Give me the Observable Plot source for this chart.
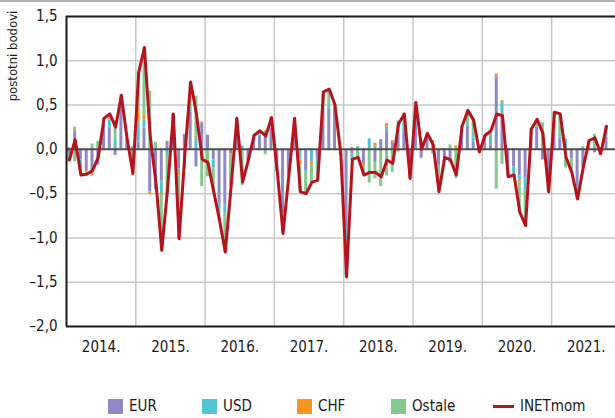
<!DOCTYPE html>
<html>
<head>
<meta charset="utf-8">
<script src="https://cdn.jsdelivr.net/npm/d3@7"></script>
<script src="https://cdn.jsdelivr.net/npm/@observablehq/plot@0.6"></script>
<style>
html, body { margin: 0; padding: 0; background: #fff; overflow: hidden; }
body { width: 615px; height: 418px; position: relative; font-family: "DejaVu Sans Condensed", "DejaVu Sans", sans-serif; font-stretch: condensed; color: #1a1a1a; }
#topline { position: absolute; left: 0; top: 0; width: 615px; height: 2px; background: #b3b3b3; }
#chart { position: absolute; left: 0; top: 0; }
#chart svg text { font-stretch: condensed; }
#ytitle { position: absolute; left: 12px; top: 56px; transform: translate(-50%, -50%) rotate(-90deg); font-size: 13px; white-space: nowrap; }
#legend { position: absolute; top: 398px; left: 0; width: 615px; height: 16px; }
.item { position: absolute; top: 0; display: flex; align-items: center; height: 16px; font-size: 15px; white-space: nowrap; }
.sw { width: 15px; height: 15px; margin-right: 6px; }
.ln { width: 21px; height: 3px; margin-right: 6px; }
</style>
</head>
<body>
<div id="chart"></div>
<div id="topline"></div>
<div id="ytitle">postotni bodovi</div>
<div id="legend"></div>
<script>
// ---- data (monthly, January 2014 – October 2021) ----
const startYear = 2014;
const yearLabels = ["2014.", "2015.", "2016.", "2017.", "2018.", "2019.", "2020.", "2021."];
const seriesNames = ["EUR", "USD", "CHF", "Ostale"];
const seriesColors = ["#8f89c6", "#52c4d1", "#f7941d", "#83c98f"];
const lineName = "INETmom";
const lineColor = "#b5141c";
const yTicks = [-2, -1.5, -1, -0.5, 0, 0.5, 1, 1.5];

const INETmom = [
  -0.12, 0.11, -0.29, -0.28, -0.24, -0.09, 0.35, 0.40, 0.25, 0.61, 0.12, -0.27,
  0.87, 1.15, 0.15, -0.38, -1.14, -0.45, 0.40, -1.01, -0.05, 0.76, 0.40, -0.11,
  -0.15, -0.48, -0.80, -1.16, -0.42, 0.35, -0.37, -0.12, 0.16, 0.21, 0.15, 0.36,
  -0.25, -0.95, -0.30, 0.35, -0.48, -0.50, -0.37, -0.35, 0.65, 0.68, 0.50, -0.05,
  -1.44, -0.11, -0.09, -0.29, -0.26, -0.26, -0.31, -0.12, -0.16, 0.29, 0.40, -0.33,
  0.53, 0.00, 0.18, 0.05, -0.48, -0.09, -0.12, -0.29, 0.26, 0.44, 0.33, -0.03,
  0.16, 0.21, 0.40, 0.38, -0.31, -0.29, -0.71, -0.86, 0.23, 0.34, 0.18, -0.48,
  0.42, 0.40, -0.09, -0.26, -0.56, -0.20, 0.10, 0.13, -0.05, 0.26
];
const EUR = [
  -0.06, 0.20, -0.12, -0.24, -0.28, -0.18, 0.30, 0.24, -0.07, 0.45, 0.05, -0.03,
  0.08, 0.24, -0.48, -0.45, -0.36, 0.09, 0.20, -0.22, 0.17, 0.42, -0.20, 0.30,
  0.16, -0.12, -0.61, -0.62, -0.05, 0.22, 0.00, -0.13, 0.14, 0.15, 0.14, 0.24,
  -0.25, -0.72, -0.26, 0.30, 0.00, -0.24, 0.00, -0.10, 0.42, 0.45, 0.45, -0.07,
  -0.88, -0.05, 0.00, -0.16, 0.00, -0.15, 0.11, 0.20, 0.08, 0.14, 0.20, -0.28,
  0.35, -0.10, 0.12, 0.04, -0.18, -0.10, -0.15, 0.00, 0.18, 0.26, 0.08, -0.04,
  0.08, 0.05, 0.82, 0.38, -0.26, -0.20, -0.30, -0.32, 0.20, 0.25, -0.12, -0.40,
  0.18, 0.10, -0.05, -0.10, -0.42, -0.20, 0.00, -0.04, -0.07, 0.14
];
const USD = [
  -0.03, 0.02, -0.10, 0.00, 0.00, 0.00, 0.00, 0.09, 0.10, 0.10, 0.02, 0.03,
  0.22, 0.09, 0.00, 0.00, -0.15, -0.08, 0.06, -0.03, 0.00, 0.04, 0.13, 0.00,
  0.00, -0.09, -0.11, -0.12, 0.00, 0.05, 0.04, 0.00, 0.02, 0.05, 0.05, 0.08,
  0.00, 0.00, 0.00, 0.02, -0.12, -0.02, -0.14, -0.08, 0.05, 0.02, 0.03, 0.00,
  -0.15, -0.05, 0.03, 0.00, 0.12, 0.04, 0.00, 0.05, 0.00, 0.08, 0.08, 0.00,
  0.05, 0.05, 0.04, 0.04, 0.00, 0.00, 0.00, 0.02, 0.00, 0.03, 0.05, 0.00,
  0.04, 0.13, 0.00, 0.15, -0.05, -0.08, -0.05, -0.14, 0.03, 0.00, 0.00, -0.03,
  0.00, 0.04, 0.12, 0.00, -0.05, 0.00, 0.00, 0.02, 0.00, 0.05
];
const CHF = [
  0.02, 0.03, 0.00, -0.02, -0.02, 0.00, 0.00, 0.02, 0.00, 0.02, 0.00, 0.00,
  0.17, 0.06, -0.03, 0.00, -0.02, 0.00, 0.00, -0.05, 0.00, 0.02, 0.02, 0.01,
  0.00, -0.01, -0.01, -0.02, -0.02, 0.00, 0.00, 0.00, 0.00, 0.00, 0.02, 0.00,
  0.00, -0.02, -0.02, 0.00, -0.06, 0.00, -0.04, 0.00, 0.00, 0.00, 0.00, 0.00,
  -0.06, 0.02, 0.00, -0.03, 0.00, 0.03, 0.00, 0.04, 0.02, -0.03, 0.00, -0.02,
  0.00, 0.00, 0.00, 0.02, 0.00, 0.01, 0.00, 0.02, 0.00, 0.00, 0.00, 0.00,
  0.04, 0.02, 0.03, 0.02, 0.00, -0.02, -0.02, 0.00, 0.00, 0.00, 0.00, 0.00,
  0.00, 0.00, 0.00, 0.00, 0.00, 0.00, 0.00, 0.00, 0.00, 0.00
];
const Ostale = [
  -0.05, -0.14, -0.07, -0.02, 0.06, 0.09, 0.05, 0.05, 0.22, 0.04, 0.05, -0.27,
  0.40, 0.76, 0.66, 0.08, -0.61, -0.46, 0.14, -0.71, -0.22, 0.28, 0.45, -0.42,
  -0.31, -0.26, -0.07, -0.40, -0.35, 0.08, -0.41, 0.01, 0.00, 0.01, -0.06, 0.04,
  0.00, -0.21, -0.02, 0.03, -0.30, -0.24, -0.19, -0.17, 0.18, 0.21, 0.02, 0.02,
  -0.35, -0.03, -0.12, -0.10, -0.38, -0.18, -0.42, -0.30, -0.26, 0.10, 0.12, -0.03,
  0.13, 0.05, 0.02, -0.05, -0.30, 0.00, 0.05, -0.33, 0.08, 0.15, 0.20, 0.01,
  0.00, 0.00, -0.45, -0.17, 0.00, 0.01, -0.34, -0.40, 0.00, 0.09, 0.30, -0.05,
  0.24, 0.26, -0.16, -0.16, -0.09, 0.03, 0.10, 0.15, 0.02, 0.07
];

// ---- tables for the library ----
const seriesValues = {EUR, USD, CHF, Ostale};
const monthStart = i => startYear + i / 12;
const bars = [];
INETmom.forEach((_, i) => {
  for (const s of seriesNames) {
    const v = seriesValues[s][i];
    if (v !== 0) bars.push({t1: monthStart(i), t2: monthStart(i + 1), series: s, value: v});
  }
});
const lineData = INETmom.map((v, i) => ({t: monthStart(i) + 1 / 24, v}));
const yearBounds = yearLabels.map((_, k) => startYear + k).slice(1);
const yearMids = yearLabels.map((_, k) => startYear + k + 0.5);
const fmtY = d => (d < 0 ? "\u2013" : "") + Math.abs(d).toFixed(1).replace(".", ",");

const chart = Plot.plot({
  width: 615,
  height: 365,
  marginLeft: 66,
  marginRight: 0,
  marginTop: 16,
  marginBottom: 39,
  style: {fontFamily: "'DejaVu Sans Condensed', 'DejaVu Sans', sans-serif", fontSize: "15px", color: "#1a1a1a", background: "transparent", overflow: "visible"},
  x: {type: "linear", domain: [startYear, startYear + 549 / 69.3], axis: null},
  y: {domain: [-2, 1.5], axis: null},
  color: {domain: seriesNames, range: seriesColors},
  marks: [
    Plot.ruleY(yTicks.filter(d => d > -2 && d < 1.5 && d !== 0), {stroke: "#c8c8c8", strokeWidth: 1.5}),
    Plot.ruleX(yearBounds, {stroke: "#c8c8c8", strokeWidth: 1.5}),
    Plot.rectY(bars, Plot.stackY({x1: "t1", x2: "t2", y: "value", fill: "series", insetLeft: 1.4, insetRight: 1.4})),
    Plot.ruleY([0], {stroke: "#4d4d4d", strokeWidth: 2}),
    Plot.line(lineData, {x: "t", y: "v", stroke: lineColor, strokeWidth: 3}),
    Plot.ruleY([1.5, -2], {stroke: "#1a1a1a", strokeWidth: 2}),
    Plot.ruleX([startYear], {stroke: "#1a1a1a", strokeWidth: 2}),
    Plot.axisY({ticks: yTicks, tickFormat: fmtY, tickSize: 0, tickPadding: 9, label: null}),
    Plot.axisX({ticks: yearMids, tickFormat: d => yearLabels[Math.floor(d) - startYear], tickSize: 0, tickPadding: 15, label: null})
  ]
});
document.getElementById("chart").appendChild(chart);

// ---- legend ----
const legend = document.getElementById("legend");
const legendX = [108, 202, 297, 391];
seriesNames.forEach((s, k) => {
  const it = document.createElement("div");
  it.className = "item";
  it.style.left = legendX[k] + "px";
  it.innerHTML = `<span class="sw" style="background:${seriesColors[k]}"></span><span>${s}</span>`;
  legend.appendChild(it);
});
const li = document.createElement("div");
li.className = "item";
li.style.left = "493px";
li.innerHTML = `<span class="ln" style="background:${lineColor}"></span><span>${lineName}</span>`;
legend.appendChild(li);
</script>
</body>
</html>
